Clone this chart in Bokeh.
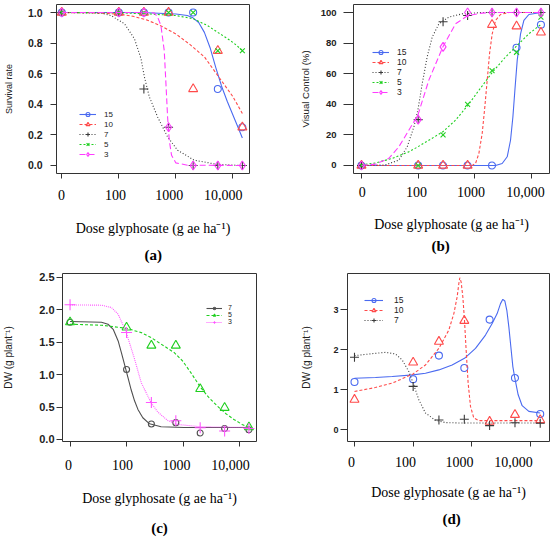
from bokeh.plotting import figure
from bokeh.models import Range1d, FixedTicker, Legend, LegendItem, Title, LogAxis, LogScale
from bokeh.layouts import column, row
from bokeh.embed import file_html
from bokeh.resources import INLINE

# ---------------- data ----------------
doses = [0, 100, 275, 745, 2010, 5440, 14650]
zero_plot_pos = 10          # dose 0 is drawn at the axis break (one decade below 100)

x_tick_values = [10, 100, 1000, 10000]
x_tick_labels = ["0", "100", "1000", "10,000"]
x_label = "Dose glyphosate (g ae ha\u207b\u00b9)"

# (a) survival rate
a_obs_15 = [1, 1, 1, 1, 1, 0.5, 0.25]
a_obs_10 = [1, 1, 1, 1, 0.5, 0.75, 0.25]
a_obs_7 = [1, 1, 0.5, 0.25, 0, 0, 0]
a_obs_5 = [1, 1, 1, 1, 1, 0.75, 0.75]
a_obs_3 = [1, 1, 1, 0.25, 0, 0, 0]
a_fit_15_x = [10, 100, 316, 1000, 1585, 1995, 2512, 3162, 3981, 5012, 6310, 7943, 10000, 12589, 14650]
a_fit_15_y = [1.0, 1.0, 0.998, 0.99, 0.98, 0.965, 0.935, 0.87, 0.77, 0.64, 0.52, 0.42, 0.33, 0.24, 0.18]
a_fit_10_x = [10, 32, 100, 178, 316, 562, 1000, 1778, 3162, 5623, 10000, 14650]
a_fit_10_y = [1.0, 0.998, 0.99, 0.975, 0.95, 0.91, 0.86, 0.79, 0.71, 0.58, 0.45, 0.34]
a_fit_7_x = [10, 49, 73, 126, 188, 245, 281, 343, 479, 716, 1072, 2089, 5333, 14650]
a_fit_7_y = [1.0, 0.996, 0.98, 0.926, 0.828, 0.698, 0.578, 0.448, 0.317, 0.187, 0.10, 0.035, 0.007, 0.0]
a_fit_5_x = [10, 100, 363, 1000, 2000, 3565, 5440, 7960, 10400, 14650]
a_fit_5_y = [1.0, 0.998, 0.99, 0.98, 0.96, 0.915, 0.87, 0.83, 0.80, 0.752]
a_fit_3_x = [10, 100, 300, 419, 479, 547, 626, 670, 716, 766, 840, 1000, 1596, 14650]
a_fit_3_y = [1.0, 1.0, 1.0, 0.997, 0.97, 0.915, 0.75, 0.535, 0.317, 0.165, 0.067, 0.017, 0.002, 0.0]
a_y_ticks = [0, 0.2, 0.4, 0.6, 0.8, 1.0]
a_y_labels = ["0.0", "0.2", "0.4", "0.6", "0.8", "1.0"]

# (b) visual control (%)
b_obs_15 = [0, 0, 0, 0, 0, 77, 92]
b_obs_10 = [0, 0, 0, 0, 92, 91, 87]
b_obs_7 = [0, 30, 94, 98, 100, 100, 100]
b_obs_5 = [0, 0, 20, 40, 62, 74, 97]
b_obs_3 = [0, 30, 77.5, 100, 100, 100, 100]
b_fit_15_x = [10, 2317, 3034, 3722, 4260, 4688, 5082, 5590, 6400, 7330, 8980, 14650]
b_fit_15_y = [0, 0, 1.3, 5.7, 16.5, 31.7, 49, 68.7, 86, 94.8, 98.7, 100]
b_fit_10_x = [10, 898, 1028, 1177, 1347, 1500, 1652, 1815, 2023, 2317, 2838, 3981, 14650]
b_fit_10_y = [0, 0, 1.3, 7.8, 20.9, 38.3, 55.7, 73, 86, 94.8, 98.7, 100, 100]
b_fit_7_x = [10, 26.5, 45.6, 64, 84, 98.7, 118, 144, 177, 232, 348, 597, 1347, 14650]
b_fit_7_y = [0, 0.4, 3.5, 12.2, 25.2, 36.1, 53.5, 70.9, 83.9, 92.6, 97, 99.1, 100, 100]
b_fit_5_x = [10, 17.7, 34.8, 68.4, 98.6, 154, 272, 456, 752, 1177, 2051, 3475, 5590, 8980, 14650]
b_fit_5_y = [0.4, 1.7, 4.6, 8.9, 12.2, 16.5, 22, 29.6, 39.3, 49.1, 61.1, 70.9, 78.5, 86.1, 92.2]
b_fit_3_x = [10, 17.7, 30.3, 45.6, 68.4, 98.6, 154, 272, 456, 752, 1347, 2023, 14650]
b_fit_3_y = [0, 0.9, 4.6, 12.2, 23, 32.8, 55.7, 77.4, 92.6, 98, 99.6, 100, 100]
b_y_ticks = [0, 20, 40, 60, 80, 100]
b_y_labels = ["0", "20", "40", "60", "80", "100"]

# (c) dry weight
c_obs_7 = [1.81, 1.08, 0.24, 0.26, 0.10, 0.17, 0.15]
c_obs_5 = [1.81, 1.73, 1.45, 1.45, 0.78, 0.49, 0.19]
c_obs_3 = [2.08, 1.65, 0.57, 0.29, 0.18, 0.13, 0.17]
c_fit_7_x = [10, 36, 47, 58, 71, 81, 93, 106, 121, 139, 159, 194, 255, 408, 1050, 14650]
c_fit_7_y = [1.82, 1.809, 1.778, 1.70, 1.52, 1.34, 1.144, 0.954, 0.763, 0.593, 0.464, 0.335, 0.242, 0.196, 0.186, 0.186]
c_fit_5_x = [10, 36, 99, 182, 272, 700, 982, 1375, 2061, 2887, 4045, 5660, 7943, 11120, 14650]
c_fit_5_y = [1.778, 1.763, 1.716, 1.649, 1.572, 1.34, 1.211, 1.031, 0.799, 0.644, 0.515, 0.402, 0.309, 0.232, 0.18]
c_fit_3_x = [10, 36, 54, 71, 99, 139, 182, 272, 357, 534, 801, 2061, 14650]
c_fit_3_y = [2.077, 2.072, 2.036, 1.933, 1.649, 1.237, 0.876, 0.567, 0.423, 0.294, 0.232, 0.196, 0.186]
c_y_ticks = [0, 0.5, 1.0, 1.5, 2.0, 2.5]
c_y_labels = ["0.0", "0.5", "1.0", "1.5", "2.0", "2.5"]

# (d) dry weight
d_obs_15 = [1.19, 1.26, 1.85, 1.54, 2.75, 1.29, 0.39]
d_obs_10 = [0.75, 1.68, 2.2, 2.72, 0.2, 0.37, 0.24]
d_obs_7 = [1.81, 1.08, 0.24, 0.26, 0.10, 0.17, 0.16]
d_fit_15_x = [10, 22.8, 43.9, 100, 162, 274, 462, 750, 1155, 1710, 2222, 2704, 3082, 3377, 3652,
              3951, 4276, 4625, 5003, 5412, 6166, 7211, 9371, 14650]
d_fit_15_y = [1.284, 1.301, 1.326, 1.367, 1.409, 1.492, 1.616, 1.782, 2.03, 2.362, 2.652, 2.9, 3.149, 3.257, 3.215,
              2.983, 2.569, 2.072, 1.575, 1.284, 0.87, 0.597, 0.456, 0.414]
d_fit_10_x = [10, 22.8, 43.9, 100, 162, 274, 405, 494, 562, 600, 624, 658, 703, 750, 800, 866, 949, 1081, 1315, 14650]
d_fit_10_y = [0.953, 1.052, 1.16, 1.392, 1.616, 2.03, 2.486, 2.9, 3.315, 3.646, 3.795, 3.688, 3.315, 2.735, 1.989,
              1.16, 0.58, 0.29, 0.224, 0.224]
d_fit_7_x = [10, 17.5, 33.8, 50, 65, 84.4, 100, 125, 162, 240, 356, 600, 14650]
d_fit_7_y = [1.848, 1.889, 1.931, 1.889, 1.74, 1.45, 1.16, 0.746, 0.414, 0.232, 0.174, 0.166, 0.166]
d_y_ticks = [0, 1, 2, 3]
d_y_labels = ["0", "1", "2", "3"]

# ---------------- styling ----------------
BLUE = "#4a6af0"
RED = "#ff4a4a"
BLACK = "#3a3a3a"
GREEN = "#1fcf1f"
MAGENTA = "#ff3cff"
SERIF = "Liberation Serif"
SANS = "Liberation Sans"

plot_x = [zero_plot_pos if d == 0 else d for d in doses]


def make_panel(width, height, xr, label_xr, yr, borders, yticks, ylabels, ylabel, letter,
               y_font="10px", y_tick_len=5, y_standoff=7, ylabel_size="9.5px", ylabel_standoff=10,
               x_lab_standoff=10, x_axlab_standoff=18, title_standoff=10, title_offset=80,
               letter_as_axis=False, letter_gap=12):
    left, right, top, bottom = borders
    p = figure(width=width, height=height, x_axis_type="log",
               x_range=Range1d(*xr), y_range=Range1d(*yr),
               output_backend="svg", toolbar_location=None,
               min_border_left=left, min_border_right=right,
               min_border_top=top, min_border_bottom=bottom)
    p.title.visible = False
    p.xgrid.visible = False
    p.ygrid.visible = False
    p.outline_line_color = "#333333"
    p.outline_line_width = 1
    p.background_fill_color = "white"
    p.border_fill_color = "white"

    # tick marks at the true dose positions (their own labels are hidden)
    xa = p.xaxis[0]
    xa.ticker = FixedTicker(ticks=x_tick_values)
    xa.axis_line_color = None
    xa.major_tick_in = 0
    xa.major_tick_out = 5
    xa.major_tick_line_color = "#333333"
    xa.minor_tick_line_color = None
    xa.major_label_text_font_size = "1px"
    xa.major_label_text_alpha = 0
    xa.major_label_standoff = 0

    # serif tick labels, placed as in the source figure
    p.extra_x_ranges = {"lab": Range1d(*label_xr)}
    p.extra_x_scales = {"lab": LogScale()}
    la = LogAxis(x_range_name="lab", ticker=FixedTicker(ticks=x_tick_values),
                 major_label_overrides={v: l for v, l in zip(x_tick_values, x_tick_labels)},
                 axis_line_color=None, major_tick_line_color=None, minor_tick_line_color=None,
                 major_tick_in=0, major_tick_out=0,
                 major_label_text_font=SERIF, major_label_text_font_size="14px",
                 major_label_text_color="black", major_label_standoff=x_lab_standoff,
                 axis_label=x_label, axis_label_text_font=SERIF, axis_label_text_font_size="14px",
                 axis_label_text_font_style="normal", axis_label_text_color="black",
                 axis_label_standoff=x_axlab_standoff)
    p.add_layout(la, "below")

    ya = p.yaxis[0]
    ya.ticker = FixedTicker(ticks=yticks)
    ya.major_label_overrides = {v: l for v, l in zip(yticks, ylabels)}
    ya.axis_line_color = None
    ya.major_tick_in = 0
    ya.major_tick_out = y_tick_len
    ya.major_tick_line_color = "#333333"
    ya.minor_tick_line_color = None
    ya.major_label_text_font = SANS
    ya.major_label_text_font_style = "bold"
    ya.major_label_text_font_size = y_font
    ya.major_label_text_color = "#222222"
    ya.major_label_standoff = y_standoff
    ya.axis_label = ylabel
    ya.axis_label_text_font = SANS
    ya.axis_label_text_font_size = ylabel_size
    ya.axis_label_text_font_style = "normal"
    ya.axis_label_text_color = "#222222"
    ya.axis_label_standoff = ylabel_standoff

    if letter_as_axis:
        # panel letter as a compact label-only axis (no extra space below the text)
        lt = LogAxis(x_range_name="lab", ticker=FixedTicker(ticks=[x_tick_values[0]]),
                     major_label_overrides={x_tick_values[0]: ""},
                     axis_line_color=None, major_tick_line_color=None, minor_tick_line_color=None,
                     major_tick_in=0, major_tick_out=0, major_label_standoff=0,
                     major_label_text_font_size="1px", major_label_text_alpha=0,
                     axis_label=letter, axis_label_text_font=SERIF, axis_label_text_font_size="15px",
                     axis_label_text_font_style="bold", axis_label_text_color="black",
                     axis_label_standoff=letter_gap)
        p.add_layout(lt, "below")
    else:
        t = Title(text=letter, align="left", offset=title_offset, text_font=SERIF,
                  text_font_size="15px", text_font_style="bold", text_color="black",
                  standoff=title_standoff)
        p.add_layout(t, "below")
    return p


def add_series(p, fx, fy, obs, color, dash, marker, size, lw=1.1):
    lr = p.line(fx, fy, line_color=color, line_dash=dash, line_width=lw)
    sr = p.scatter(plot_x, obs, marker=marker, size=size, fill_color=None,
                   line_color=color, line_width=1.1)
    return lr, sr


def add_legend(p, entries, loc, font_size, glyph_w, standoff, row_h, pad=2, spacing=0):
    items = [LegendItem(label=lab, renderers=list(rs)) for lab, rs in entries]
    lg = Legend(items=items, location=loc, orientation="vertical",
                background_fill_alpha=0, border_line_color=None,
                padding=pad, spacing=spacing, margin=0,
                label_text_font=SANS, label_text_font_size=font_size,
                label_text_color="#222222",
                label_height=row_h, glyph_height=row_h, glyph_width=glyph_w,
                label_standoff=standoff)
    p.add_layout(lg)


# ---- (a)
pa = make_panel(275, 268, (8.08, 19540), (8.09, 30690), (-0.0523, 1.0523), (55, 26, 4, 95),
                a_y_ticks, a_y_labels, "Survival rate", "(a)",
                y_font="10.5px", y_tick_len=6, y_standoff=8, ylabel_size="9px", ylabel_standoff=11,
                x_lab_standoff=11, x_axlab_standoff=18, title_standoff=12, title_offset=88)
ra = [
    ("15", add_series(pa, a_fit_15_x, a_fit_15_y, a_obs_15, BLUE, "solid", "circle", 7)),
    ("10", add_series(pa, a_fit_10_x, a_fit_10_y, a_obs_10, RED, "3 2", "triangle", 9)),
    ("7", add_series(pa, a_fit_7_x, a_fit_7_y, a_obs_7, BLACK, "1 2", "cross", 9)),
    ("5", add_series(pa, a_fit_5_x, a_fit_5_y, a_obs_5, GREEN, "2 2", "x", 7)),
    ("3", add_series(pa, a_fit_3_x, a_fit_3_y, a_obs_3, MAGENTA, "6 3", "diamond", 9)),
]
add_legend(pa, ra, (23, 14), "8px", 17, 8, 10)

# ---- (b)
pb = make_panel(275, 268, (7.23, 20750), (6.92, 27730), (-5.23, 105.23), (78, 1, 4, 95),
                b_y_ticks, b_y_labels, "Visual Control (%)", "(b)",
                y_font="9.5px", y_tick_len=10, y_standoff=7, ylabel_size="9.6px", ylabel_standoff=7,
                x_lab_standoff=8, x_axlab_standoff=17, title_standoff=2, title_offset=78)
rb = [
    ("15", add_series(pb, b_fit_15_x, b_fit_15_y, b_obs_15, BLUE, "solid", "circle", 7)),
    ("10", add_series(pb, b_fit_10_x, b_fit_10_y, b_obs_10, RED, "3 2", "triangle", 9)),
    ("7", add_series(pb, b_fit_7_x, b_fit_7_y, b_obs_7, BLACK, "1 2", "cross", 9)),
    ("5", add_series(pb, b_fit_5_x, b_fit_5_y, b_obs_5, GREEN, "2 2", "x", 7)),
    ("3", add_series(pb, b_fit_3_x, b_fit_3_y, b_obs_3, MAGENTA, "6 3", "diamond", 9)),
]
add_legend(pb, rb, (19, 76), "8.5px", 17, 8, 10)

# ---- (c)  (frames of a row share top/bottom, so c and d use the same borders)
pc = make_panel(275, 270, (7.35, 19950), (7.76, 30200), (-0.031, 2.561), (61, 19, 5, 96),
                c_y_ticks, c_y_labels, "DW (g plant\u207b\u00b9)", "(c)",
                y_font="11px", y_tick_len=6, y_standoff=2, ylabel_size="10px", ylabel_standoff=22,
                x_lab_standoff=13, x_axlab_standoff=18, letter_as_axis=True, letter_gap=11)
rc = [
    ("7", add_series(pc, c_fit_7_x, c_fit_7_y, c_obs_7, "#505050", "solid", "circle", 6)),
    ("5", add_series(pc, c_fit_5_x, c_fit_5_y, c_obs_5, GREEN, "3 2", "triangle", 9)),
    ("3", add_series(pc, c_fit_3_x, c_fit_3_y, c_obs_3, "#ff55ff", "1 1", "cross", 11)),
]
add_legend(pc, rc, (144, 116), "7px", 16, 6, 6, pad=1, spacing=-2)

# ---- (d)
pd_ = make_panel(275, 270, (7.60, 21090), (8.43, 46450), (-0.298, 3.902), (72, 1, 5, 96),
                 d_y_ticks, d_y_labels, "DW (g plant\u207b\u00b9)", "(d)",
                 y_font="9px", y_tick_len=7, y_standoff=2, ylabel_size="10px", ylabel_standoff=18,
                 x_lab_standoff=10, x_axlab_standoff=15, title_standoff=12, title_offset=95)
rd = [
    ("15", add_series(pd_, d_fit_15_x, d_fit_15_y, d_obs_15, BLUE, "solid", "circle", 7)),
    ("10", add_series(pd_, d_fit_10_x, d_fit_10_y, d_obs_10, RED, "3 2", "triangle", 9)),
    ("7", add_series(pd_, d_fit_7_x, d_fit_7_y, d_obs_7, BLACK, "1 2", "cross", 9)),
]
add_legend(pd_, rd, (17, 116), "8.5px", 19, 11, 10)

layout = column(row(pa, pb), row(pc, pd_))
open("out.html", "w").write(file_html(layout, INLINE))
